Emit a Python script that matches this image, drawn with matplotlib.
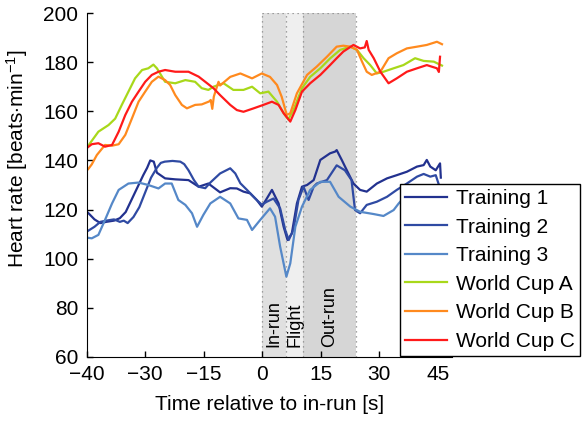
import matplotlib
matplotlib.use("Agg")
import matplotlib.pyplot as plt

plt.rcParams['font.family'] = ['Liberation Sans', 'DejaVu Sans']
plt.rcParams['mathtext.fontset'] = 'custom'
plt.rcParams['mathtext.rm'] = 'Liberation Sans'
plt.rcParams['mathtext.it'] = 'Liberation Sans:italic'

# heart rate curves (time in s, HR in beats/min)
t_tr1 = [-44.6, -43, -41.5, -40, -38, -36.5, -35, -33.5, -32, -30.5, -29.5, -28.7, -27.8, -27,
         -24.9, -22.3, -18.9, -16.3, -13.8, -10.8, -8.2, -6.5, -4.8, -3.1, -1.4, -0.1, 1, 2.5,
         4.2, 5.5, 6.5, 7.6, 8.9, 10.2, 11.5, 13.2, 14.9, 17.4, 18.7, 19.1, 20.4, 21.7, 23.4,
         25.1, 26.8, 29.4, 32, 34.5, 37.1, 39.7, 41.4, 42.2, 43.1, 44.5, 45.6, 45.8]
hr_tr1 = [118.6, 116, 114.5, 115, 115.5, 116.5, 119, 124, 129, 134, 137, 140, 139.5, 135,
          132.7, 132.3, 132, 129.3, 130.6, 127, 128.7, 128.6, 127.3, 126.6, 123.9, 121.2, 124, 128,
          122.5, 113, 107.6, 110.3, 122.5, 129.3, 130, 132, 140.2, 142.9, 143.6, 144.2, 140.2, 136, 130.6,
          128, 127.3, 130.6, 132.7, 134, 135.4, 137.5, 138.1, 140.2, 137.5, 136, 138.8, 133]

t_tr2 = [-44.6, -43, -41.5, -40, -38, -36.5, -35.5, -34.5, -33, -31.5, -30, -28.5, -27, -26, -25,
         -23, -21, -20, -18.9, -17.5, -16.3, -14.6, -13.3, -10.8, -8.2, -6.9, -5.6, -3.9, -1.4,
         -0.1, 1.2, 2.9, 4.6, 5.9, 6.8, 8, 9.3, 10.6, 11.9, 13.2, 14, 16.6, 19.1, 21.2, 22.9,
         23.8, 25.1, 26.8, 29.4, 32, 34.5, 37.1, 39.7, 41.4, 43.1, 44.5, 45.2]
hr_tr2 = [111.4, 113, 115, 115.5, 116, 115, 115.5, 114.5, 117, 121, 127, 133, 137, 139, 139.5,
          139.8, 139.5, 138.5, 136, 132, 129.3, 128.7, 131, 134.7, 136.8, 134.7, 130.7, 128, 123.9,
          122, 123.2, 124.5, 120.5, 111.7, 107.6, 111.7, 123.9, 129.3, 123.9, 129.3, 130.6, 132, 138, 136, 132,
          119.8, 118.5, 121.9, 123.2, 125.2, 128, 130.6, 133.4, 134.5, 133.4, 134, 130.6]

t_tr3 = [-44.6, -43.7, -42, -40.3, -38.5, -36.8, -34.3, -31.7, -29.2, -26.6, -24.9, -23.2, -21.5,
         -19.7, -18, -16.7, -15.1, -13.3, -10.8, -8.2, -6.1, -3.9, -2.6, -0.5, 2, 3.3, 4.6, 6.2,
         7.2, 8.5, 10.2, 12.3, 14.9, 17.4, 19.6, 22.6, 25.1, 28.5, 31.1, 33.7, 35, 37]
hr_tr3 = [108.5, 108.3, 109.7, 115.8, 122.5, 128, 130.6, 131, 130, 128.6, 130.6, 130.6, 123.9,
          121.9, 118.5, 113, 117.8, 122.5, 125.2, 122.5, 116.4, 115.8, 111.7, 115.8, 120.5, 117.1, 104.9, 92.7,
          98.1, 113, 121.2, 128, 131.3, 131.3, 125.2, 121.2, 119.1, 118.2, 117.4, 119.8, 122.5, 126]

t_wca = [-44.6, -42, -39.4, -37.7, -36, -34.3, -32.6, -30.8, -29.2, -27.9, -27, -24.9, -22.3, -19.7,
         -17.2, -15.5, -13.8, -12.5, -9.9, -7.4, -4.8, -2.6, -0.5, 1.6, 3.8, 5.5, 6.7, 8, 10.2,
         12.3, 14.9, 17.4, 20, 22.6, 24.3, 26, 27.7, 29.4, 31.1, 33.7, 36.2, 39.2, 41.4, 44, 46.1]
hr_wca = [146, 151.7, 154.4, 157, 162.6, 168, 173.4, 176.8, 177.5, 179, 177.5, 172, 171.4, 172.7,
          172, 169.4, 168.7, 170, 171.4, 168.7, 168.7, 170, 167.3, 168, 163.9, 159.2, 156.7, 160.5, 169.4,
          174, 177.5, 181.5, 185, 186.3, 185, 181.6, 178.8, 175.4, 176.1, 177.5, 178.8, 181.6, 180.5, 180.2, 178.6]

t_wcb = [-44.6, -43.7, -42.4, -40.3, -38.5, -36.8, -35.1, -33.4, -31.7, -30, -28.3, -26.6, -24.9,
         -23.6, -22.3, -20.6, -19.3, -17.2, -15.5, -13.6, -13.2, -12.8, -12.4, -11.8, -11.2, -10.8,
         -8.2, -5.6, -2.6, -0.1, 2, 3.8, 5, 6.3, 7.2, 8.9, 11.5, 14, 16.6, 19.1, 20.8, 22.6, 24.3,
         25.6, 26.8, 28.1, 30.3, 32.4, 34.5, 37.1, 39.7, 42.2, 44.8, 46.1]
hr_wcb = [136.5, 138.4, 142.2, 146.3, 146, 146.6, 150.4, 157.1, 163.9, 168, 172, 174.1, 172.7,
          170.7, 166.6, 162.6, 161.2, 162.6, 162.8, 164, 164.6, 161, 166, 169, 172, 170.5,
          174, 175.4, 173.4, 175.4, 174, 170.7, 165.9, 158.5, 159.2, 167.3, 174.8, 178.2, 182.2, 186.3, 186.7, 186.3, 185,
          180.2, 176.1, 174.8, 176.1, 181.6, 183.6, 185.6, 186.3, 187, 188.3, 187.3]

t_wcc = [-45, -43.7, -42, -40.3, -38.5, -36.8, -35.1, -33.4, -31.7, -30, -28.3, -26.6, -24.9, -22.3,
         -18.9, -16.3, -14.6, -12.5, -10.8, -8.2, -6.5, -4.8, -2.2, 0.3, 2.5, 4.2, 5.5, 7.2, 8.5,
         10.2, 12.3, 14.9, 17.4, 19.1, 20.8, 23.4, 25.1, 26.3, 26.8, 27.3, 28.6, 30.3, 32.4, 34.5,
         37.1, 39.7, 42.2, 44.8, 45.3, 45.6]
hr_wcc = [145, 146.6, 147, 145.6, 146.3, 151.7, 158.5, 163.9, 168, 172, 174.8, 176.1, 176.8, 176.1,
          176.1, 174.1, 172, 169.4, 166.6, 162.6, 160.5, 159.8, 161.2, 162.6, 163.9, 162.6, 159.2, 155.8, 160.5,
          168, 171.4, 174.8, 178.8, 181.6, 184.3, 187, 185.6, 186, 188.6, 185, 181.6, 176.1, 171.4, 173.4,
          176.1, 177.5, 178.8, 177.5, 176, 182.2]

# phases of the jump (s)
phase_names = ["In-run", "Flight", "Out-run"]
phase_edges = [0, 6.15, 10.45, 24.0]
phase_colors = ['#e0e0e0', '#efefef', '#d6d6d6']

xticks = [-45, -30, -15, 0, 15, 30, 45]
xticklabels = ['\u221240', '\u221230', '\u221215', '0', '15', '30', '45']

fig = plt.figure(figsize=(5.85, 4.25), dpi=100)
ax = fig.add_axes([0.1482, 0.16, 0.624, 0.8094])

for i in range(3):
    ax.axvspan(phase_edges[i], phase_edges[i + 1], ymin=0, ymax=1, color=phase_colors[i], lw=0, zorder=0)
    ax.text((phase_edges[i] + phase_edges[i + 1]) / 2, 64, phase_names[i], rotation=90,
            ha='center', va='bottom', fontsize=13, zorder=1)
ax.vlines(phase_edges, 60, 200, colors='#888888', linestyles=(0, (1, 3)), lw=0.9, zorder=1)
ax.hlines(200, phase_edges[0], phase_edges[-1], colors='#888888', linestyles=(0, (1, 3)), lw=0.9, zorder=1)

lw = 1.6
ax.plot(t_tr1, hr_tr1, color='#22318f', lw=lw, label='Training 1')
ax.plot(t_tr2, hr_tr2, color='#2f4aa3', lw=lw, label='Training 2')
ax.plot(t_tr3, hr_tr3, color='#5588c8', lw=lw, label='Training 3')
ax.plot(t_wca, hr_wca, color='#a8d81a', lw=lw, label='World Cup A')
ax.plot(t_wcb, hr_wcb, color='#ff8a1e', lw=lw, label='World Cup B')
ax.plot(t_wcc, hr_wcc, color='#ff1a1a', lw=lw, label='World Cup C')

ax.set_xlim(-45, 48.6)
ax.set_ylim(60, 200)
ax.set_xticks(xticks)
ax.set_xticklabels(xticklabels)
ax.set_yticks(range(60, 201, 20))
ax.tick_params(direction='in', length=4, width=1, labelsize=15, pad=6)
ax.spines['top'].set_visible(False)
ax.spines['right'].set_visible(False)
ax.set_xlabel('Time relative to in-run [s]', fontsize=15, labelpad=8)
ax.set_ylabel(r'Heart rate [beats$\cdot$min$^{\mathregular{-1}}$]', fontsize=15)
ax.yaxis.set_label_coords(-0.155, 0.576)

leg = ax.legend(loc='lower left', bbox_to_anchor=(0.684, 0.162), bbox_transform=fig.transFigure,
                fontsize=15, frameon=True, fancybox=False, edgecolor='black', framealpha=1,
                handlelength=2.0, handletextpad=0.45, labelspacing=0.46, borderpad=0.25,
                borderaxespad=0)
leg.get_frame().set_linewidth(1.0)
leg.set_zorder(5)

fig.savefig('out.png', dpi=100)
